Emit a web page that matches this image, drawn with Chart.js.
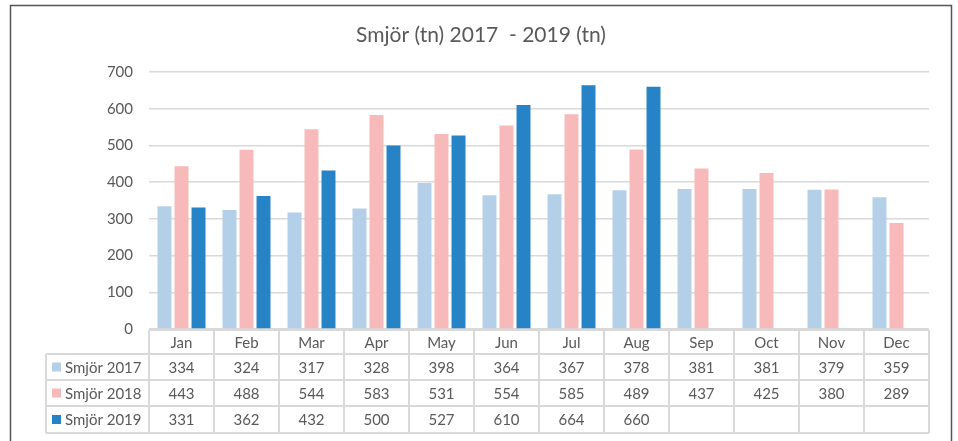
<!DOCTYPE html>
<html><head><meta charset="utf-8">
<script src="https://cdn.jsdelivr.net/npm/chart.js@4/dist/chart.umd.min.js"></script>
<style>html,body{margin:0;padding:0;background:#fff;}#wrap{width:958px;height:441px;position:relative;}</style>
</head><body><div id="wrap"><canvas id="c" width="958" height="441"></canvas></div>
<script>
const months = ['Jan','Feb','Mar','Apr','May','Jun','Jul','Aug','Sep','Oct','Nov','Dec'];
const seriesNames = ['Smjör 2017','Smjör 2018','Smjör 2019'];
const smjor2017 = [334,324,317,328,398,364,367,378,381,381,379,359];
const smjor2018 = [443,488,544,583,531,554,585,489,437,425,380,289];
const smjor2019 = [331,362,432,500,527,610,664,660,null,null,null,null];
const yTicks = [0,100,200,300,400,500,600,700];
const chartTitle = 'Smjör (tn) 2017  - 2019 (tn)';
const colors = ['#B4D0E8','#F7B9B9','#2683C6'];
const allSeries = [smjor2017, smjor2018, smjor2019];
const FONT = 'Lato, "Open Sans", sans-serif';
const TXT = '#595959';
const LINE = '#D9D9D9';

const tablePlugin = {
  id: 'tablePlugin',
  afterDraw(chart) {
    const ctx = chart.ctx, xs = chart.scales.x, ca = chart.chartArea;
    const n = months.length;
    const step = (ca.right - ca.left) / n;
    const top = ca.bottom + 1;
    const rows = [top, top + 24, top + 50, top + 76, top + 103];
    const legendLeft = 46;
    ctx.save();
    // title
    ctx.fillStyle = TXT;
    ctx.font = '21px ' + FONT;
    ctx.textAlign = 'center';
    ctx.textBaseline = 'middle';
    ctx.fillText(chartTitle, 481, 35);
    ctx.strokeStyle = LINE;
    ctx.lineWidth = 2;
    ctx.beginPath();
    ctx.moveTo(ca.left, rows[0]); ctx.lineTo(ca.right, rows[0]);
    for (let r = 1; r < rows.length; r++) { ctx.moveTo(legendLeft, rows[r]); ctx.lineTo(ca.right, rows[r]); }
    for (let i = 0; i <= n; i++) { const x = ca.left + i * step; ctx.moveTo(x, rows[0]); ctx.lineTo(x, rows[4]); }
    ctx.moveTo(legendLeft, rows[1]); ctx.lineTo(legendLeft, rows[4]);
    ctx.stroke();
    ctx.fillStyle = TXT;
    ctx.font = '15px ' + FONT;
    for (let i = 0; i < n; i++) {
      const cx = xs.getPixelForValue(i);
      ctx.fillText(months[i], cx, (rows[0] + rows[1]) / 2 + 1);
      for (let s = 0; s < 3; s++) {
        const v = allSeries[s][i];
        if (v !== null && v !== undefined) ctx.fillText(String(v), cx, (rows[s + 1] + rows[s + 2]) / 2 + 1);
      }
    }
    ctx.textAlign = 'left';
    for (let s = 0; s < 3; s++) {
      const cy = (rows[s + 1] + rows[s + 2]) / 2;
      ctx.fillStyle = colors[s];
      ctx.fillRect(52, cy - 4.5, 9, 9);
      ctx.fillStyle = TXT;
      ctx.fillText(seriesNames[s], 65, cy + 1);
    }
    ctx.strokeStyle = '#555';
    ctx.lineWidth = 1.5;
    ctx.beginPath();
    ctx.moveTo(10.5, 445); ctx.lineTo(10.5, 5.5); ctx.lineTo(951.5, 5.5); ctx.lineTo(951.5, 445);
    ctx.stroke();
    ctx.restore();
  }
};

new Chart(document.getElementById('c'), {
  type: 'bar',
  data: {
    labels: months,
    datasets: allSeries.map((d, i) => ({
      label: seriesNames[i], data: d, backgroundColor: colors[i],
      categoryPercentage: 0.785, barPercentage: 0.82
    }))
  },
  options: {
    responsive: false, animation: false,
    layout: { padding: { left: 0, right: 29, top: 72, bottom: 112 } },
    plugins: {
      legend: { display: false },
      tooltip: { enabled: false },
      title: { display: false }
    },
    scales: {
      x: { display: false },
      y: {
        min: 0, max: 700,
        afterFit(scale) { scale.width = 149; },
        afterBuildTicks(scale) { scale.ticks = yTicks.map(v => ({ value: v })); },
        ticks: { color: TXT, font: { family: FONT, size: 15 }, padding: 16 },
        grid: { color: LINE, lineWidth: 1.5, drawTicks: false },
        border: { display: false }
      }
    }
  },
  plugins: [tablePlugin]
});
</script></body></html>
